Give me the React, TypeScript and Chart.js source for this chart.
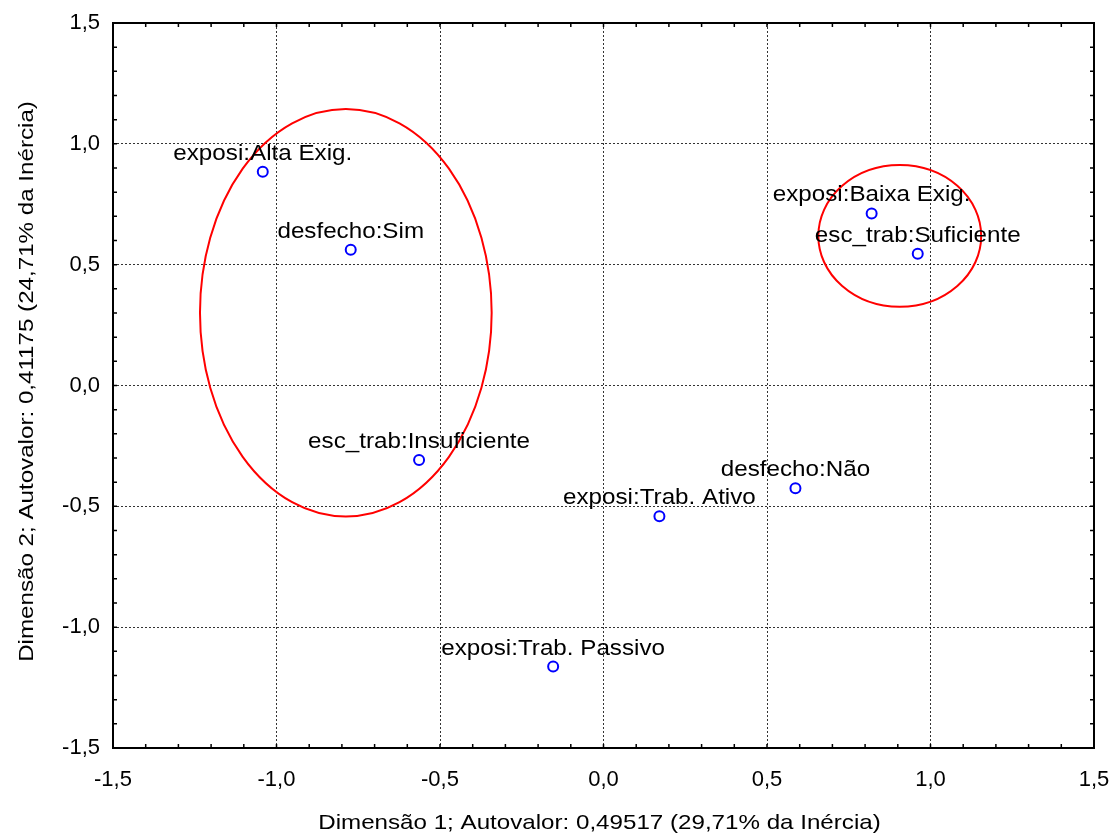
import React, { useEffect, useRef } from "react";
import { Chart, registerables } from "chart.js";

Chart.register(...registerables);

// ---- data ----
const pointLabels = [
  "exposi:Alta Exig.",
  "desfecho:Sim",
  "esc_trab:Insuficiente",
  "exposi:Trab. Ativo",
  "desfecho:Não",
  "exposi:Trab. Passivo",
  "exposi:Baixa Exig.",
  "esc_trab:Suficiente",
];
const dim1 = [-1.042, -0.773, -0.564, 0.171, 0.587, -0.154, 0.82, 0.961];
const dim2 = [0.884, 0.562, -0.308, -0.541, -0.425, -1.163, 0.712, 0.545];

// ellipses (data units)
const ellipseCx = [-0.788, 0.906];
const ellipseCy = [0.301, 0.619];
const ellipseRx = [0.446, 0.249];
const ellipseRy = [0.843, 0.293];

const axisMin = -1.5;
const axisMax = 1.5;
const majorStep = 0.5;
const minorStep = 0.1;

const xTitle = "Dimensão 1; Autovalor: 0,49517 (29,71% da Inércia)";
const yTitle = "Dimensão 2; Autovalor: 0,41175 (24,71% da Inércia)";

const FONT = "'Liberation Sans', Arial, Helvetica, sans-serif";

const fmt = (v: number) => Number(v).toFixed(1).replace(".", ",");

const decorPlugin = {
  id: "decor",
  afterDatasetsDraw(chart: any) {
    const { ctx, chartArea, scales } = chart;
    const xs = scales.x;
    const ys = scales.y;
    ctx.save();
    // ellipses
    ctx.strokeStyle = "#ff0000";
    ctx.lineWidth = 2;
    for (let i = 0; i < ellipseCx.length; i++) {
      const cx = xs.getPixelForValue(ellipseCx[i]);
      const cy = ys.getPixelForValue(ellipseCy[i]);
      const rx = Math.abs(xs.getPixelForValue(ellipseCx[i] + ellipseRx[i]) - cx);
      const ry = Math.abs(ys.getPixelForValue(ellipseCy[i] + ellipseRy[i]) - cy);
      ctx.beginPath();
      ctx.ellipse(cx, cy, rx, ry, 0, 0, Math.PI * 2);
      ctx.stroke();
    }
    // point labels
    ctx.fillStyle = "#000";
    ctx.font = `22px ${FONT}`;
    ctx.textAlign = "center";
    ctx.textBaseline = "alphabetic";
    for (let i = 0; i < pointLabels.length; i++) {
      const px = xs.getPixelForValue(dim1[i]);
      const py = ys.getPixelForValue(dim2[i]);
      ctx.save();
      ctx.translate(px, py - 12);
      ctx.scale(1.1, 1);
      ctx.fillText(pointLabels[i], 0, 0);
      ctx.restore();
    }
    // minor ticks (inside frame)
    ctx.strokeStyle = "#000";
    ctx.lineWidth = 1.5;
    const n = Math.round((axisMax - axisMin) / minorStep);
    const tl = 4;
    ctx.beginPath();
    for (let k = 0; k <= n; k++) {
      const v = axisMin + k * minorStep;
      const x = xs.getPixelForValue(v);
      const y = ys.getPixelForValue(v);
      ctx.moveTo(x, chartArea.bottom);
      ctx.lineTo(x, chartArea.bottom - tl);
      ctx.moveTo(x, chartArea.top);
      ctx.lineTo(x, chartArea.top + tl);
      ctx.moveTo(chartArea.left, y);
      ctx.lineTo(chartArea.left + tl, y);
      ctx.moveTo(chartArea.right, y);
      ctx.lineTo(chartArea.right - tl, y);
    }
    ctx.stroke();
    // frame
    ctx.lineWidth = 2;
    ctx.strokeRect(
      chartArea.left,
      chartArea.top,
      chartArea.right - chartArea.left,
      chartArea.bottom - chartArea.top
    );
    // axis titles
    ctx.fillStyle = "#000";
    ctx.font = `21px ${FONT}`;
    ctx.textAlign = "center";
    ctx.textBaseline = "alphabetic";
    ctx.save();
    ctx.translate((chartArea.left + chartArea.right) / 2 - 4, 829);
    ctx.scale(1.15, 1);
    ctx.fillText(xTitle, 0, 0);
    ctx.restore();
    ctx.save();
    ctx.translate(33, (chartArea.top + chartArea.bottom) / 2 - 4);
    ctx.rotate(-Math.PI / 2);
    ctx.scale(1.15, 1);
    ctx.fillText(yTitle, 0, 0);
    ctx.restore();
    ctx.restore();
  },
};

export default function App() {
  const ref = useRef<HTMLCanvasElement>(null);

  useEffect(() => {
    if (!ref.current) return;
    const points = dim1.map((x, i) => ({ x, y: dim2[i] }));
    const tickFont = { family: FONT, size: 22 };
    const chart = new Chart(ref.current, {
      type: "scatter",
      data: {
        datasets: [
          {
            data: points,
            pointRadius: 5,
            pointHoverRadius: 5,
            pointBorderWidth: 2,
            borderColor: "#0000ff",
            backgroundColor: "rgba(0,0,0,0)",
            pointStyle: "circle",
          },
        ],
      },
      options: {
        animation: false,
        responsive: true,
        maintainAspectRatio: false,
        layout: { padding: { top: 23, right: 18, bottom: 0, left: 0 } },
        plugins: {
          legend: { display: false },
          tooltip: { enabled: false },
        },
        scales: {
          x: {
            type: "linear",
            min: axisMin,
            max: axisMax,
            ticks: {
              stepSize: majorStep,
              padding: 19,
              color: "#000",
              font: tickFont,
              maxRotation: 0,
              callback: (v: any) => fmt(v),
            },
            grid: { color: "rgba(0,0,0,0.8)", lineWidth: 1, drawTicks: false },
            border: { display: false, dash: [2, 2] },
            afterFit: (s: any) => {
              s.height = 86;
              s.paddingLeft = 0;
              s.paddingRight = 0;
            },
          },
          y: {
            type: "linear",
            min: axisMin,
            max: axisMax,
            ticks: {
              stepSize: majorStep,
              padding: 13,
              color: "#000",
              font: tickFont,
              callback: (v: any) => fmt(v),
            },
            grid: { color: "rgba(0,0,0,0.8)", lineWidth: 1, drawTicks: false },
            border: { display: false, dash: [2, 2] },
            afterFit: (s: any) => {
              s.width = 113;
              s.paddingTop = 0;
              s.paddingBottom = 0;
            },
          },
        },
      },
      plugins: [decorPlugin],
    } as any);
    return () => chart.destroy();
  }, []);

  return (
    <div style={{ position: "fixed", left: 0, top: 0, width: 1112, height: 834 }}>
      <canvas ref={ref} />
    </div>
  );
}
